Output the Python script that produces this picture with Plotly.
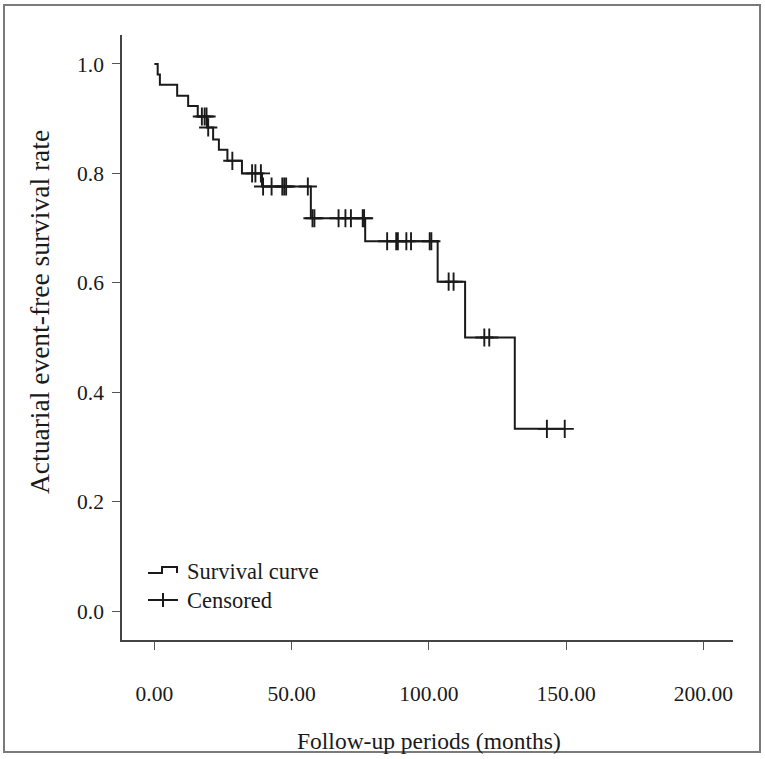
import numpy as np
import plotly.graph_objects as go

# ---- data ----
event_times = [0, 1.2, 2.0, 8.3, 12.3, 15.8, 19.2, 21.4, 23.5, 26.6, 31.9,
               39.2, 57.0, 76.8, 103.2, 113.2, 131.3]
survival = [1.0, 0.981, 0.962, 0.942, 0.923, 0.904, 0.884, 0.862, 0.843,
            0.823, 0.800, 0.776, 0.718, 0.676, 0.602, 0.500, 0.333]
censor_times = [17.3, 18.3, 19.0, 19.6, 28.4, 35.6, 36.8, 38.8,
                39.6, 42.7, 46.6, 47.3, 48.0, 55.9,
                57.6, 58.3, 67.1, 69.6, 71.6, 75.9, 76.4,
                84.8, 88.1, 88.7, 91.8, 93.5, 100.3, 100.9,
                107.2, 109.0, 120.2, 122.0, 143.0, 149.5]
last_followup = 149.5
x_ticks = [0, 50, 100, 150, 200]
x_tick_labels = ["0.00", "50.00", "100.00", "150.00", "200.00"]
y_ticks = [0.0, 0.2, 0.4, 0.6, 0.8, 1.0]
y_tick_labels = ["0.0", "0.2", "0.4", "0.6", "0.8", "1.0"]
x_title = "Follow-up periods (months)"
y_title = "Actuarial event-free survival rate"

# step function values at censor times
idx = np.searchsorted(np.array(event_times), np.array(censor_times), side="right") - 1
censor_surv = [survival[i] for i in idx]

W, H = 765, 759
L, R, T, B = 122, 32, 35, 119
PW, PH = W - L - R, H - T - B

def px(x):
    return (x - L) / PW

def py(y):
    return (H - B - y) / PH

FONT = "Liberation Serif"
INK = "#1a1a1a"

fig = go.Figure()
fig.add_trace(go.Scatter(
    x=event_times + [last_followup], y=survival + [survival[-1]],
    mode="lines", line=dict(shape="hv", color=INK, width=2),
    showlegend=False, hoverinfo="skip"))
fig.add_trace(go.Scatter(
    x=censor_times, y=censor_surv, mode="markers",
    marker=dict(symbol="cross-thin", size=13, line=dict(color=INK, width=1.9)),
    showlegend=False, hoverinfo="skip"))

shapes = []
# outer frame
shapes.append(dict(type="rect", xref="paper", yref="paper",
                   x0=px(4), x1=px(760), y0=py(752), y1=py(5),
                   line=dict(color="#7a7a7a", width=2), layer="below"))
# legend symbols
shapes.append(dict(type="path", xref="paper", yref="paper",
                   path=f"M {px(148)} {py(573)} L {px(162)} {py(573)} L {px(162)} {py(567)} "
                        f"L {px(177)} {py(567)} L {px(177)} {py(573)}",
                   line=dict(color=INK, width=2)))
shapes.append(dict(type="line", xref="paper", yref="paper",
                   x0=px(148), x1=px(178), y0=py(600), y1=py(600),
                   line=dict(color=INK, width=2)))
shapes.append(dict(type="line", xref="paper", yref="paper",
                   x0=px(163), x1=px(163), y0=py(593), y1=py(607),
                   line=dict(color=INK, width=2)))

LEG = 22.5
annotations = [
    dict(text="Survival curve", xref="paper", yref="paper", x=px(185), y=py(571),
         xanchor="left", yanchor="middle", showarrow=False,
         font=dict(family=FONT, size=LEG, color=INK)),
    dict(text="Censored", xref="paper", yref="paper", x=px(185), y=py(600),
         xanchor="left", yanchor="middle", showarrow=False,
         font=dict(family=FONT, size=LEG, color=INK)),
    dict(text=x_title, xref="paper", yref="paper", x=px(429), y=py(741),
         xanchor="center", yanchor="middle", showarrow=False,
         font=dict(family=FONT, size=23.5, color=INK)),
    dict(text=y_title, xref="paper", yref="paper", x=px(39), y=py(312),
         xanchor="center", yanchor="middle", showarrow=False, textangle=-90,
         font=dict(family=FONT, size=27.5, color=INK)),
]

fig.update_layout(
    width=W, height=H,
    margin=dict(l=L, r=R, t=T, b=B, pad=0, autoexpand=False),
    paper_bgcolor="white", plot_bgcolor="white",
    shapes=shapes, annotations=annotations, showlegend=False,
    font=dict(family=FONT, color=INK),
)
fig.update_xaxes(
    range=[-11.8, 210.8], tickvals=x_ticks, ticktext=x_tick_labels, automargin=False,
    showgrid=False, zeroline=False, showline=True, linecolor="#444", linewidth=1.5,
    ticks="outside", ticklen=8, tickwidth=1.2, tickcolor="#555",
    tickfont=dict(family=FONT, size=21.5, color=INK), ticklabelstandoff=25)
fig.update_yaxes(
    range=[-0.053, 1.053], tickvals=y_ticks, ticktext=y_tick_labels, automargin=False,
    showgrid=False, zeroline=False, showline=True, linecolor="#444", linewidth=1.5,
    ticks="outside", ticklen=8, tickwidth=1.2, tickcolor="#555",
    tickfont=dict(family=FONT, size=21.5, color=INK), ticklabelstandoff=4)

fig.write_html("out.html", config={"displayModeBar": False},
               post_script="document.body.style.margin='0';")
